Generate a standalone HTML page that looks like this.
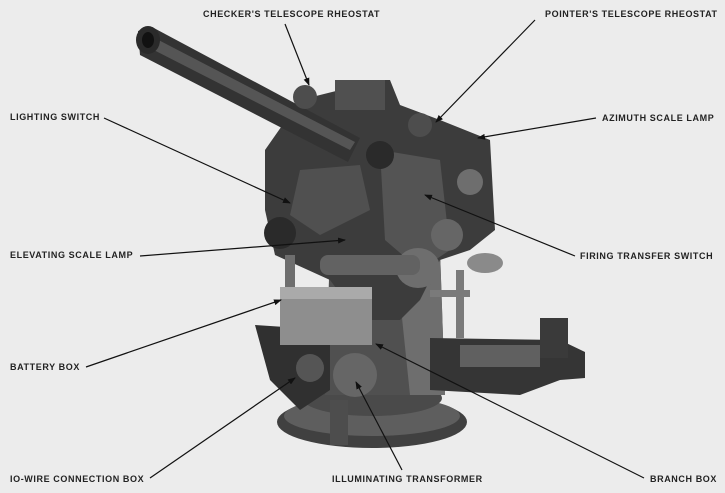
<!DOCTYPE html>
<html><head><meta charset="utf-8"><style>
html,body{margin:0;padding:0;background:#ececec;}
svg{display:block}
text{font-family:"Liberation Sans",sans-serif;font-size:9px;font-weight:bold;fill:#222;letter-spacing:0.6px}
</style></head><body>
<svg width="725" height="493" viewBox="0 0 725 493" xmlns="http://www.w3.org/2000/svg">
<defs><marker id="a" markerWidth="8" markerHeight="6" refX="7" refY="3" orient="auto" markerUnits="userSpaceOnUse"><path d="M0 0 L8 3 L0 6 Z" fill="#111"/></marker></defs>
<rect width="725" height="493" fill="#ececec"/>
<ellipse cx="372" cy="422" rx="95" ry="26" fill="#404040"/>
<ellipse cx="372" cy="416" rx="88" ry="20" fill="#5e5e5e"/>
<ellipse cx="372" cy="398" rx="70" ry="18" fill="#4a4a4a"/>
<path d="M330 250 L440 250 L445 395 L325 395 Z" fill="#505050"/>
<path d="M395 250 L440 250 L445 395 L410 395 Z" fill="#6e6e6e"/>
<path d="M430 338 L560 340 L585 352 L585 378 L560 380 L520 395 L430 390 Z" fill="#353535"/>
<rect x="540" y="318" width="28" height="40" fill="#3a3a3a"/>
<rect x="460" y="345" width="80" height="22" fill="#606060"/>
<path d="M255 325 L330 330 L330 390 L300 410 L270 380 Z" fill="#303030"/>
<path d="M265 150 L300 100 L340 90 L345 80 L390 80 L400 105 L440 120 L490 140 L495 230 L470 250 L440 260 L420 300 L400 320 L360 320 L330 280 L275 255 L265 210 Z" fill="#3c3c3c"/>
<path d="M380 150 L440 160 L450 250 L420 270 L385 240 Z" fill="#545454"/>
<path d="M300 170 L360 165 L370 210 L320 235 L290 215 Z" fill="#505050"/>
<circle cx="447" cy="235" r="16" fill="#666"/>
<circle cx="280" cy="233" r="16" fill="#2a2a2a"/>
<circle cx="470" cy="182" r="13" fill="#6e6e6e"/>
<ellipse cx="418" cy="268" rx="22" ry="20" fill="#6e6e6e"/>
<rect x="320" y="255" width="100" height="20" rx="8" fill="#626262"/>
<rect x="285" y="255" width="10" height="40" fill="#6e6e6e"/>
<ellipse cx="485" cy="263" rx="18" ry="10" fill="#8a8a8a"/>
<rect x="456" y="270" width="8" height="68" fill="#7a7a7a"/>
<rect x="430" y="290" width="40" height="7" fill="#7a7a7a"/>
<rect x="280" y="287" width="92" height="58" fill="#8e8e8e"/>
<rect x="280" y="287" width="92" height="12" fill="#aaaaaa"/>
<circle cx="355" cy="375" r="22" fill="#666"/>
<circle cx="310" cy="368" r="14" fill="#555"/>
<rect x="330" y="400" width="18" height="45" fill="#4d4d4d"/>
<path d="M138 31 L152 27 L360 138 L348 162 L140 55 Z" fill="#333"/>
<path d="M145 33 L355 142 L350 150 L142 44 Z" fill="#555"/>
<ellipse cx="148" cy="40" rx="12" ry="14" fill="#2a2a2a"/>
<ellipse cx="148" cy="40" rx="6" ry="8" fill="#111"/>
<rect x="335" y="80" width="50" height="30" fill="#505050"/>
<circle cx="305" cy="97" r="12" fill="#4d4d4d"/>
<circle cx="420" cy="125" r="12" fill="#4d4d4d"/>
<circle cx="380" cy="155" r="14" fill="#2a2a2a"/>
<g stroke="#111" stroke-width="1.2" fill="none" marker-end="url(#a)">
<line x1="285" y1="24" x2="309" y2="85"/>
<line x1="535" y1="20" x2="436" y2="122"/>
<line x1="104" y1="118" x2="290" y2="203"/>
<line x1="596" y1="118" x2="478" y2="138"/>
<line x1="140" y1="256" x2="345" y2="240"/>
<line x1="575" y1="256" x2="425" y2="195"/>
<line x1="86" y1="367" x2="281" y2="300"/>
<line x1="150" y1="478" x2="295" y2="378"/>
<line x1="402" y1="470" x2="356" y2="382"/>
<line x1="644" y1="478" x2="376" y2="344"/>
</g>
<text x="203" y="17">CHECKER'S TELESCOPE RHEOSTAT</text>
<text x="545" y="17">POINTER'S TELESCOPE RHEOSTAT</text>
<text x="10" y="120">LIGHTING SWITCH</text>
<text x="602" y="121">AZIMUTH SCALE LAMP</text>
<text x="10" y="258">ELEVATING SCALE LAMP</text>
<text x="580" y="259">FIRING TRANSFER SWITCH</text>
<text x="10" y="370">BATTERY BOX</text>
<text x="10" y="482">IO-WIRE CONNECTION BOX</text>
<text x="332" y="482">ILLUMINATING TRANSFORMER</text>
<text x="650" y="482">BRANCH BOX</text>
</svg>
</body></html>
